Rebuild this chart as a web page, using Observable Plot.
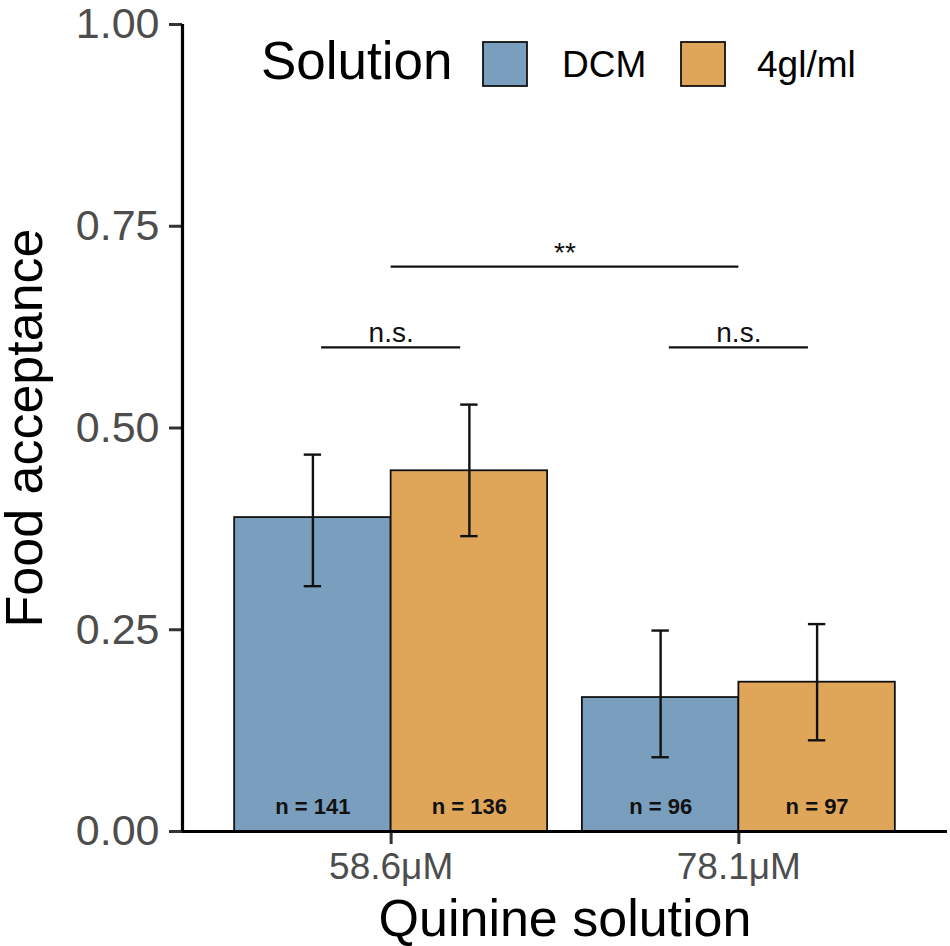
<!DOCTYPE html>
<html>
<head>
<meta charset="utf-8">
<script src="https://cdn.jsdelivr.net/npm/d3@7"></script>
<script src="https://cdn.jsdelivr.net/npm/@observablehq/plot@0.6"></script>
<style>
  html, body { margin: 0; padding: 0; background: #fff; }
  #wrap { position: relative; width: 950px; height: 946px; font-family: "Liberation Sans", Arial, Helvetica, sans-serif; }
  #legend { position: absolute; left: 0; top: 0; pointer-events: none; }
</style>
</head>
<body>
<div id="wrap"></div>
<script>
// ---- data ----
const groups = ["58.6μM", "78.1μM"];
const solutions = ["DCM", "4gl/ml"];
const colors = ["#7a9ebd", "#dfa65a"];
// values per group, for [DCM, 4gl/ml]
const meanDCM = [0.389, 0.166];
const meanGL = [0.447, 0.185];
const loDCM = [0.304, 0.092];
const hiDCM = [0.467, 0.249];
const loGL = [0.366, 0.113];
const hiGL = [0.529, 0.257];
const nDCM = [141, 96];
const nGL = [136, 97];
const yTicks = [0, 0.25, 0.5, 0.75, 1];
// significance brackets
const sigX1 = [0.8, 1.8, 1];
const sigX2 = [1.2, 2.2, 2];
const sigY = [0.6, 0.6, 0.7];
const sigLabel = ["n.s.", "n.s.", "**"];

// ---- build rows ----
const dodge = 0.225;
const rows = [];
groups.forEach((g, i) => {
  rows.push({group: g, solution: "DCM", gi: i + 1, off: -1, value: meanDCM[i], lo: loDCM[i], hi: hiDCM[i], n: nDCM[i]});
  rows.push({group: g, solution: "4gl/ml", gi: i + 1, off: 1, value: meanGL[i], lo: loGL[i], hi: hiGL[i], n: nGL[i]});
});
const pos = d => d.gi + d.off * dodge;
const sig = sigLabel.map((l, i) => ({x1: sigX1[i], x2: sigX2[i], y: sigY[i], label: l}));

const font = '"Liberation Sans", Arial, Helvetica, sans-serif';

const chart = Plot.plot({
  width: 950,
  height: 946,
  marginLeft: 182,
  marginRight: 3,
  marginTop: 24,
  marginBottom: 115,
  style: {fontFamily: font, background: "#fff", overflow: "visible"},
  x: {type: "linear", domain: [0.4, 2.6], axis: null},
  y: {domain: [0, 1], axis: null},
  color: {domain: solutions, range: colors},
  marks: [
    Plot.rect(rows, {x1: d => pos(d) - dodge, x2: d => pos(d) + dodge, y1: 0, y2: "value", fill: "solution", stroke: "#111", strokeWidth: 1.8}),
    Plot.ruleX(rows, {x: pos, y1: "lo", y2: "hi", stroke: "#111", strokeWidth: 2.4}),
    Plot.ruleY(rows, {y: "lo", x1: d => pos(d) - 0.025, x2: d => pos(d) + 0.025, stroke: "#111", strokeWidth: 2.4}),
    Plot.ruleY(rows, {y: "hi", x1: d => pos(d) - 0.025, x2: d => pos(d) + 0.025, stroke: "#111", strokeWidth: 2.4}),
    Plot.text(rows, {x: pos, y: 0.031, text: d => `n = ${d.n}`, fontWeight: "bold", fontSize: 22, fill: "#111"}),
    Plot.ruleY(sig, {y: "y", x1: "x1", x2: "x2", stroke: "#111", strokeWidth: 2.2}),
    Plot.text(sig, {x: d => (d.x1 + d.x2) / 2, y: "y", text: "label", lineAnchor: "bottom", dy: -5, fontSize: 28, fill: "#111"}),
    // axes
    Plot.axisY({ticks: yTicks, tickFormat: d3.format(".2f"), tickSize: 13, tickPadding: 10, fontSize: 43, stroke: "#333", fill: "#4d4d4d", strokeWidth: 3, label: null}),
    Plot.axisX({ticks: [1, 2], tickFormat: d => groups[d - 1], tickSize: 13, tickPadding: 8, fontSize: 37, stroke: "#333", fill: "#4d4d4d", strokeWidth: 3, label: null}),
    Plot.ruleX([0.4], {y1: 0, y2: 1, stroke: "#000", strokeWidth: 3.2}),
    Plot.ruleY([0], {x1: 0.4, x2: 2.6, stroke: "#000", strokeWidth: 3.2}),
    // axis titles
    Plot.text(["Food acceptance"], {frameAnchor: "left", textAnchor: "middle", rotate: -90, lineAnchor: "bottom", dx: -141, fontSize: 52, fill: "#000"}),
    Plot.text(["Quinine solution"], {frameAnchor: "bottom", textAnchor: "middle", lineAnchor: "bottom", dy: 104, fontSize: 52, fill: "#000"})
  ]
});

const wrap = document.getElementById("wrap");
wrap.appendChild(chart);

// ---- legend (inside plot area, top) ----
const color = chart.scale("color");
const ns = "http://www.w3.org/2000/svg";
const leg = document.createElementNS(ns, "svg");
leg.setAttribute("id", "legend");
leg.setAttribute("width", 950);
leg.setAttribute("height", 120);
leg.style.fontFamily = font;
function add(tag, attrs, text) {
  const el = document.createElementNS(ns, tag);
  for (const k in attrs) el.setAttribute(k, attrs[k]);
  if (text) el.textContent = text;
  leg.appendChild(el);
  return el;
}
add("text", {x: 261, y: 79, "font-size": 53, fill: "#000"}, "Solution");
const swX = [483, 681];
const labX = [562, 757];
solutions.forEach((s, i) => {
  add("rect", {x: swX[i], y: 42, width: 44, height: 44, fill: color.apply(s), stroke: "#111", "stroke-width": 1.8});
  add("text", {x: labX[i], y: 77, "font-size": 37, fill: "#000"}, s);
});
wrap.appendChild(leg);
</script>
</body>
</html>
